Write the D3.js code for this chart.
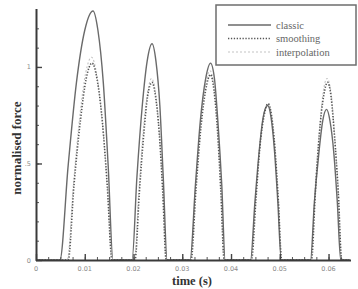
<!DOCTYPE html>
<html>
<head>
<meta charset="utf-8">
<script src="https://cdn.jsdelivr.net/npm/d3@7"></script>
<style>
  body { margin: 0; background: #fff; }
  svg { display: block; }
</style>
</head>
<body>
<svg id="canvas" width="358" height="289"></svg>
<script>
(function() {
// values: [time (s), normalised force]
var classic = [
  [0, 0], [0.0049, 0], [0.0066, 0.49], [0.0083, 0.92], [0.0100, 1.19], [0.0117, 1.29],
  [0.0127, 1.19], [0.0138, 0.92], [0.0148, 0.49], [0.0158, 0],
  [0.0197, 0], [0.0207, 0.43], [0.0218, 0.80], [0.0228, 1.03], [0.0238, 1.12],
  [0.0246, 1.03], [0.0254, 0.80], [0.0261, 0.43], [0.0269, 0],
  [0.0316, 0], [0.0327, 0.39], [0.0337, 0.72], [0.0348, 0.94], [0.0358, 1.02],
  [0.0366, 0.94], [0.0373, 0.72], [0.0381, 0.39], [0.0388, 0],
  [0.0440, 0], [0.0449, 0.30], [0.0458, 0.57], [0.0466, 0.74], [0.0475, 0.80],
  [0.0482, 0.74], [0.0489, 0.57], [0.0496, 0.30], [0.0503, 0],
  [0.0563, 0], [0.0571, 0.30], [0.0580, 0.55], [0.0588, 0.72], [0.0596, 0.78],
  [0.0603, 0.72], [0.0611, 0.55], [0.0618, 0.30], [0.0625, 0], [0.0643, 0]
]
var smoothing = [
  [0, 0], [0.0066, 0], [0.0078, 0.39], [0.0091, 0.72], [0.0103, 0.94], [0.0115, 1.02],
  [0.0125, 0.94], [0.0136, 0.72], [0.0146, 0.39], [0.0156, 0],
  [0.0203, 0], [0.0212, 0.35], [0.0221, 0.65], [0.0229, 0.85], [0.0238, 0.92],
  [0.0245, 0.85], [0.0253, 0.65], [0.0260, 0.35], [0.0267, 0],
  [0.0318, 0], [0.0328, 0.36], [0.0338, 0.68], [0.0348, 0.88], [0.0358, 0.96],
  [0.0365, 0.88], [0.0372, 0.68], [0.0379, 0.36], [0.0386, 0],
  [0.0442, 0], [0.0451, 0.31], [0.0459, 0.58], [0.0468, 0.75], [0.0476, 0.81],
  [0.0483, 0.75], [0.0490, 0.58], [0.0497, 0.31], [0.0504, 0],
  [0.0565, 0], [0.0573, 0.35], [0.0581, 0.65], [0.0590, 0.85], [0.0598, 0.92],
  [0.0605, 0.85], [0.0612, 0.65], [0.0620, 0.35], [0.0627, 0], [0.0643, 0]
]
var interpolation = [
  [0, 0], [0.0064, 0], [0.0077, 0.40], [0.0090, 0.75], [0.0102, 0.97], [0.0114, 1.05],
  [0.0124, 0.97], [0.0135, 0.74], [0.0146, 0.40], [0.0156, 0],
  [0.0202, 0], [0.0211, 0.36], [0.0220, 0.67], [0.0229, 0.87], [0.0237, 0.94],
  [0.0245, 0.87], [0.0253, 0.66], [0.0260, 0.36], [0.0267, 0],
  [0.0317, 0], [0.0327, 0.37], [0.0337, 0.69], [0.0347, 0.90], [0.0357, 0.98],
  [0.0365, 0.90], [0.0372, 0.69], [0.0379, 0.37], [0.0386, 0],
  [0.0441, 0], [0.0450, 0.31], [0.0459, 0.58], [0.0467, 0.75], [0.0476, 0.81],
  [0.0483, 0.75], [0.0490, 0.58], [0.0497, 0.31], [0.0504, 0],
  [0.0564, 0], [0.0572, 0.36], [0.0581, 0.66], [0.0589, 0.87], [0.0597, 0.94],
  [0.0605, 0.87], [0.0612, 0.66], [0.0620, 0.36], [0.0627, 0], [0.0643, 0]
]
var xTicks = [0, 0.01, 0.02, 0.03, 0.04, 0.05, 0.06]
var xTickLabels = ["0", "0.01", "0.02", "0.03", "0.04", "0.05", "0.06"]
var yTicks = [0, 0.5, 1]
var yTickLabels = ["0", ".5", "1"]
var seriesNames = ["classic", "smoothing", "interpolation"]

var svg = d3.select("#canvas")
var x = d3.scaleLinear().domain([0, 0.0643]).range([36, 349.5])
var y = d3.scaleLinear().domain([0, 1.295]).range([260, 10])

var line = d3.line()
  .x(function(d) { return x(d[0]) })
  .y(function(d) { return y(d[1]) })
  .curve(d3.curveMonotoneX)

var styles = [
  {data: classic, stroke: "#6a6a6a", width: 1.4, dash: null},
  {data: smoothing, stroke: "#555", width: 1.6, dash: "1.3,1.6"},
  {data: interpolation, stroke: "#c4c4c4", width: 1.1, dash: "2,2"}
]

// draw light series first so the darker ones sit on top
svg.append("g").selectAll("path")
  .data([styles[2], styles[0], styles[1]])
  .join("path")
  .attr("d", function(s) { return line(s.data) })
  .attr("fill", "none")
  .attr("stroke", function(s) { return s.stroke })
  .attr("stroke-width", function(s) { return s.width })
  .attr("stroke-dasharray", function(s) { return s.dash })

// axes: ticks pointing inwards
var xAxis = svg.append("g").attr("transform", "translate(0,260)")
xAxis.call(d3.axisTop(x).tickValues(d3.range(0, 0.0626, 0.0025)).tickSize(3).tickFormat(""))
xAxis.call(function(g) {
  g.select(".domain").remove()
  g.selectAll("line").attr("stroke", "#555").attr("stroke-width", 1)
})
var xMajor = svg.append("g").attr("transform", "translate(0,260)")
xMajor.call(d3.axisTop(x).tickValues(xTicks).tickSize(6).tickFormat(""))
xMajor.call(function(g) {
  g.select(".domain").remove()
  g.selectAll("line").attr("stroke", "#444").attr("stroke-width", 1.4)
})

var yAxis = svg.append("g").attr("transform", "translate(36,0)")
yAxis.call(d3.axisRight(y).tickValues(d3.range(0, 1.295, 0.1)).tickSize(3).tickFormat(""))
yAxis.call(function(g) {
  g.select(".domain").remove()
  g.selectAll("line").attr("stroke", "#555").attr("stroke-width", 1)
})
var yMajor = svg.append("g").attr("transform", "translate(36,0)")
yMajor.call(d3.axisRight(y).tickValues(yTicks).tickSize(6).tickFormat(""))
yMajor.call(function(g) {
  g.select(".domain").remove()
  g.selectAll("line").attr("stroke", "#444").attr("stroke-width", 1.4)
})

svg.append("line").attr("x1", 36).attr("x2", 351).attr("y1", 260.5).attr("y2", 260.5)
  .attr("stroke", "#3a3a3a").attr("stroke-width", 2)
svg.append("line").attr("x1", 36.5).attr("x2", 36.5).attr("y1", 9).attr("y2", 261)
  .attr("stroke", "#3a3a3a").attr("stroke-width", 2)

svg.append("g").selectAll("text")
  .data(xTicks)
  .join("text")
  .attr("x", function(d) { return x(d) })
  .attr("y", 271)
  .attr("text-anchor", "middle")
  .attr("font-family", "DejaVu Sans, sans-serif")
  .attr("font-size", 6.5)
  .attr("fill", "#8a8a8a")
  .text(function(d, i) { return xTickLabels[i] })

svg.append("g").selectAll("text")
  .data(yTicks)
  .join("text")
  .attr("x", 31)
  .attr("y", function(d) { return y(d) + 2.5 })
  .attr("text-anchor", "end")
  .attr("font-family", "DejaVu Sans, sans-serif")
  .attr("font-size", 6.5)
  .attr("fill", "#8a8a8a")
  .text(function(d, i) { return yTickLabels[i] })

svg.append("text")
  .attr("x", 192).attr("y", 284.5)
  .attr("text-anchor", "middle")
  .attr("font-family", "Liberation Serif, serif")
  .attr("font-weight", "bold")
  .attr("font-size", 12.5)
  .attr("fill", "#333")
  .text("time (s)")

svg.append("text")
  .attr("transform", "translate(20.5,148) rotate(-90)")
  .attr("text-anchor", "middle")
  .attr("font-family", "Liberation Serif, serif")
  .attr("font-weight", "bold")
  .attr("font-size", 13)
  .attr("fill", "#333")
  .text("normalised force")

// legend
var legend = svg.append("g")
legend.append("rect")
  .attr("x", 216).attr("y", 5).attr("width", 140).attr("height", 60)
  .attr("fill", "#fff").attr("stroke", "#6e6e6e").attr("stroke-width", 1.5)

var rows = legend.selectAll("g.row")
  .data(styles)
  .join("g")
  .attr("class", "row")
  .attr("transform", function(d, i) { return "translate(0," + (25 + i * 13.5) + ")" })
rows.append("line")
  .attr("x1", 228).attr("x2", 271)
  .attr("stroke", function(s) { return s.stroke })
  .attr("stroke-width", function(s) { return s.width })
  .attr("stroke-dasharray", function(s) { return s.dash })
rows.append("text")
  .attr("x", 276).attr("y", 3.5)
  .attr("font-family", "Liberation Serif, serif")
  .attr("font-size", 10.5)
  .attr("fill", "#666")
  .text(function(d, i) { return seriesNames[i] })
})();
</script>
</body>
</html>
